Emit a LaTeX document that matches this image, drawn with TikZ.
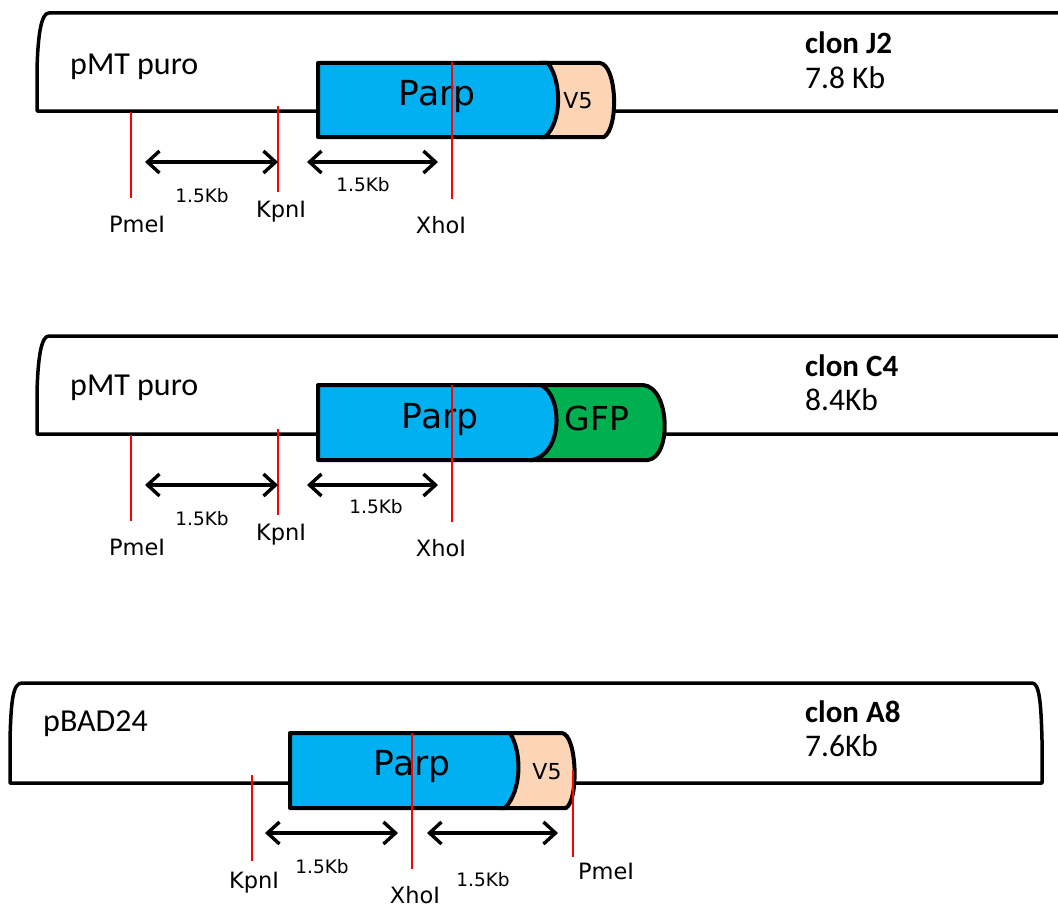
\documentclass[tikz,border=0pt]{standalone}
\usepackage{fontspec}
\setmainfont{Carlito}
\newfontfamily\dv{DejaVu Sans}
\usetikzlibrary{arrows.meta}
\definecolor{parpblue}{HTML}{00B0F0}
\definecolor{peach}{HTML}{FBD5B5}
\definecolor{gfpgreen}{HTML}{00B050}
\tikzset{
  vec/.style={line width=3.5pt, line join=round},
  gene/.style={line width=4pt, line join=round},
  site/.style={red, line width=1.4pt},
  span/.style={line width=3.4pt, {Straight Barb[length=12pt,width=22pt,line width=3.4pt]}-{Straight Barb[length=12pt,width=22pt,line width=3.4pt]}},
  lbl/.style={font=\dv\fontsize{22.5}{24}\selectfont, inner sep=0pt},
  kb/.style={font=\dv\fontsize{18.5}{20}\selectfont, inner sep=0pt},
  vname/.style={font=\fontsize{32}{34}\selectfont, anchor=west, inner sep=0pt},
  clon/.style={font=\bfseries\fontsize{31}{33}\selectfont, anchor=west, inner sep=0pt},
  size/.style={font=\fontsize{31.5}{33}\selectfont, anchor=west, inner sep=0pt},
  genetext/.style={font=\dv\fontsize{34.5}{36}\selectfont, inner sep=0pt},
  tagtext/.style={font=\dv\fontsize{22}{24}\selectfont, inner sep=0pt},
}
\begin{document}
\begin{tikzpicture}[x=1pt,y=-1pt]
\useasboundingbox (0,0) rectangle (1058,907);
% ---------------- panel 1 ----------------
\draw[vec] (1060,13) -- (49,13) .. controls (42,13) and (38,30) .. (37,70) -- (37,111) -- (1060,111);
\draw[gene, fill=peach] (540,63) -- (600,63) .. controls (617,65) and (619,128) .. (604,137) -- (540,137) -- cycle;
\draw[gene, fill=parpblue] (318,63) -- (548,63) .. controls (562,82) and (562,122) .. (545,137) -- (318,137) -- cycle;
\node[genetext] (parp1) at (437,97) {Parp};
\node[tagtext] (v51) at (578,101) {V5};
\node[vname] (vec1) at (70,67) {pMT puro};
\node[clon] (clon1) at (805,43) {clon J2};
\node[size] (size1) at (805,78) {7.8 Kb};
\coordinate (pme1a) at (131,112); \coordinate (pme1b) at (131,198);
\coordinate (kpn1a) at (278,106); \coordinate (kpn1b) at (278,192);
\coordinate (xho1a) at (452,62);  \coordinate (xho1b) at (452,199);
\draw[site] (pme1a) -- (pme1b);
\draw[site] (kpn1a) -- (kpn1b);
\draw[site] (xho1a) -- (xho1b);
\node[lbl] (pme1) at (137,224) {PmeI};
\node[lbl] (kpn1) at (281,212) {KpnI};
\node[lbl] (xho1) at (441,225) {XhoI};
\coordinate (a1l) at (145,162); \coordinate (a1r) at (278,162);
\coordinate (a2l) at (307,162); \coordinate (a2r) at (438,162);
\draw[span] (a1l) -- (a1r);
\draw[span] (a2l) -- (a2r);
\node[kb] (kb1a) at (202,196) {1.5Kb};
\node[kb] (kb1b) at (363,185) {1.5Kb};
% ---------------- panel 2 ----------------
\draw[vec] (1060,336) -- (49,336) .. controls (42,336) and (38,353) .. (37,393) -- (37,434) -- (1060,434);
\draw[gene, fill=gfpgreen] (530,385) -- (643,385) .. controls (670,387) and (672,457) .. (648,460) -- (530,460) -- cycle;
\draw[gene, fill=parpblue] (318,385) -- (541,385) .. controls (563,396) and (563,454) .. (532,460) -- (318,460) -- cycle;
\node[genetext] (parp2) at (440,420) {Parp};
\node[font=\dv\fontsize{33}{35}\selectfont, inner sep=0pt] (gfp2) at (597,418) {GFP};
\node[vname] (vec2) at (70,388) {pMT puro};
\node[clon] (clon2) at (805,366) {clon C4};
\node[size] (size2) at (805,400) {8.4Kb};
\coordinate (pme2a) at (131,435); \coordinate (pme2b) at (131,521);
\coordinate (kpn2a) at (278,429); \coordinate (kpn2b) at (278,515);
\coordinate (xho2a) at (452,385); \coordinate (xho2b) at (452,522);
\draw[site] (pme2a) -- (pme2b);
\draw[site] (kpn2a) -- (kpn2b);
\draw[site] (xho2a) -- (xho2b);
\node[lbl] (pme2) at (137,547) {PmeI};
\node[lbl] (kpn2) at (281,535) {KpnI};
\node[lbl] (xho2) at (441,548) {XhoI};
\coordinate (b1l) at (145,485); \coordinate (b1r) at (278,485);
\coordinate (b2l) at (307,485); \coordinate (b2r) at (438,485);
\draw[span] (b1l) -- (b1r);
\draw[span] (b2l) -- (b2r);
\node[kb] (kb2a) at (202,519) {1.5Kb};
\node[kb] (kb2b) at (376,507) {1.5Kb};
% ---------------- panel 3 ----------------
\draw[vec] (22,683) -- (1032,683) .. controls (1039,683) and (1041,700) .. (1042,740) -- (1042,783) -- (10,783) -- (10,740) .. controls (11,700) and (13,683) .. cycle;
\draw[gene, fill=peach] (500,733) -- (562,733) .. controls (577,735) and (579,800) .. (566,808) -- (500,808) -- cycle;
\draw[gene, fill=parpblue] (290,733) -- (510,733) .. controls (522,752) and (522,790) .. (505,808) -- (290,808) -- cycle;
\node[genetext] (parp3) at (412,767) {Parp};
\node[tagtext] (v53) at (547,772) {V5};
\node[vname] (vec3) at (43,724) {pBAD24};
\node[clon] (clon3) at (805,712) {clon A8};
\node[size] (size3) at (805,746) {7.6Kb};
\coordinate (kpn3a) at (252,775); \coordinate (kpn3b) at (252,861);
\coordinate (xho3a) at (412,733); \coordinate (xho3b) at (412,869);
\coordinate (pme3a) at (573,770); \coordinate (pme3b) at (573,857);
\draw[site] (kpn3a) -- (kpn3b);
\draw[site] (xho3a) -- (xho3b);
\draw[site] (pme3a) -- (pme3b);
\node[lbl] (kpn3) at (254,883) {KpnI};
\node[lbl] (xho3) at (415,895) {XhoI};
\node[lbl] (pme3) at (606,871) {PmeI};
\coordinate (c1l) at (265,833); \coordinate (c1r) at (398,833);
\coordinate (c2l) at (427,833); \coordinate (c2r) at (558,833);
\draw[span] (c1l) -- (c1r);
\draw[span] (c2l) -- (c2r);
\node[kb] (kb3a) at (322,867) {1.5Kb};
\node[kb] (kb3b) at (483,880) {1.5Kb};
\end{tikzpicture}
\end{document}
